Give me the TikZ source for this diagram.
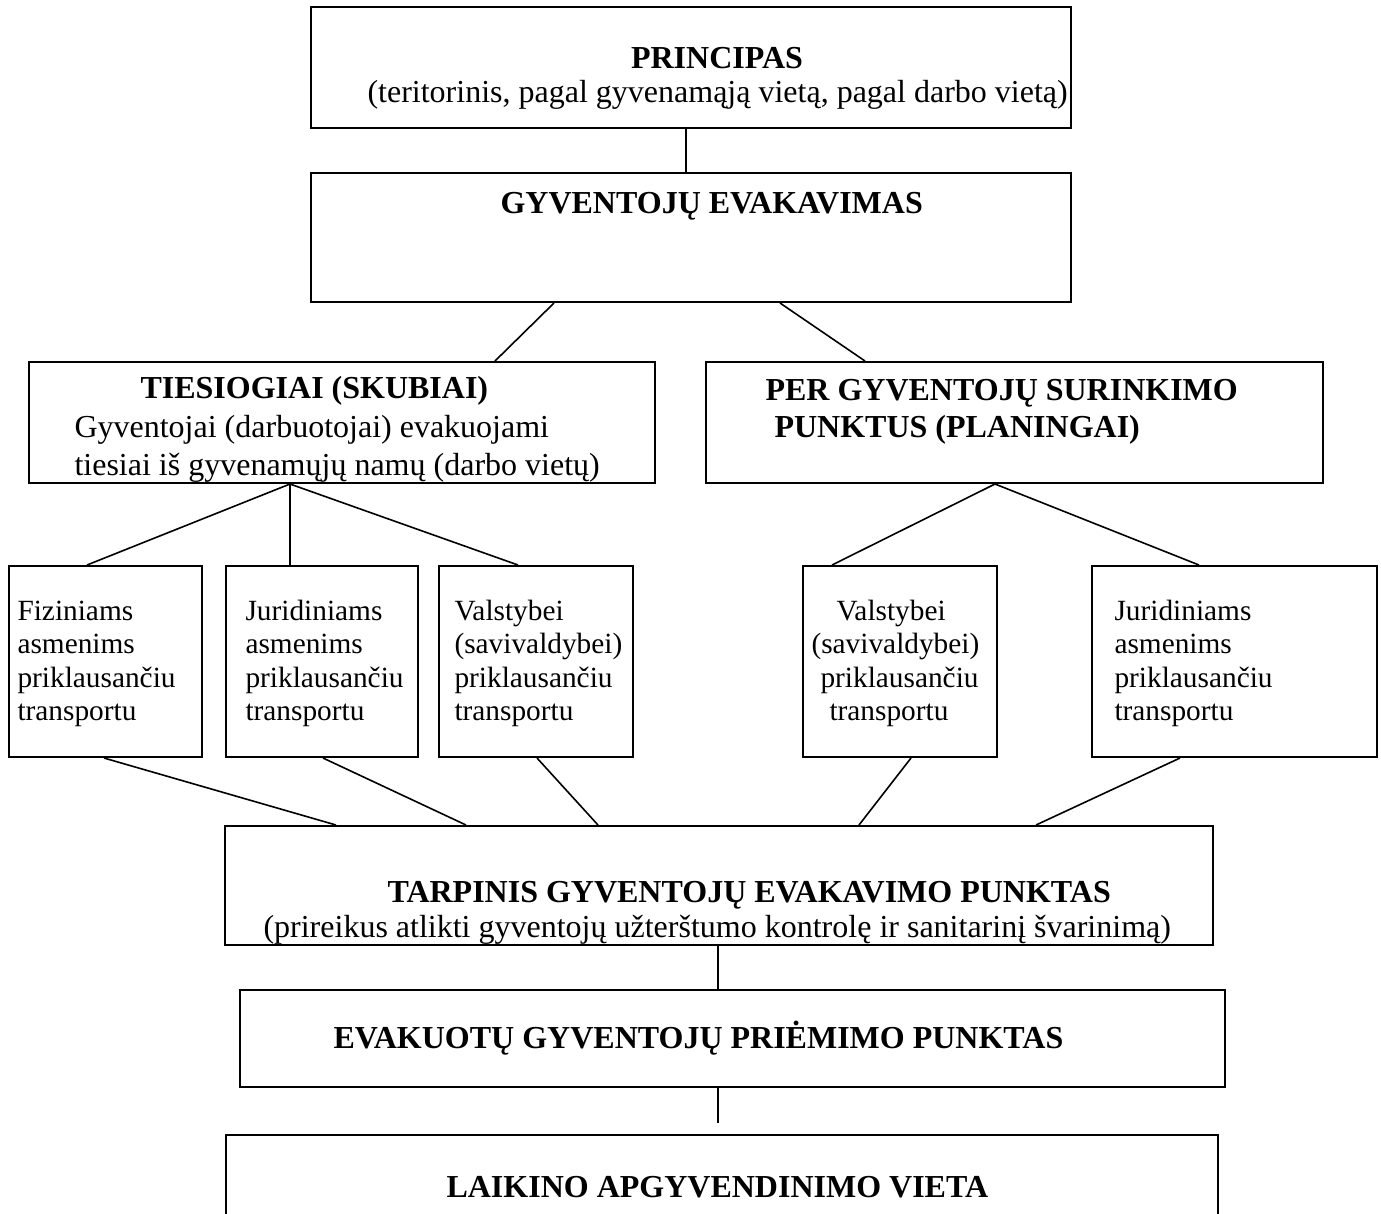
\documentclass[tikz,border=0pt]{standalone}
\usepackage{fontspec}
\setmainfont{Liberation Serif}
\usetikzlibrary{fit}

\begin{document}
\begin{tikzpicture}[x=0.375pt,y=-0.375pt]
\tikzstyle{every node}=[font=\fontsize{12}{14}\selectfont, inner sep=0pt]
\tikzstyle{box}=[draw, line width=0.75pt]
\tikzstyle{txt}=[anchor=base west]
\tikzstyle{ttl}=[anchor=base west, font=\fontsize{12}{14}\selectfont\bfseries]
\tikzstyle{small}=[anchor=base west, font=\fontsize{11}{13}\selectfont]
\tikzstyle{link}=[line width=0.6pt]

% page frame, the last box runs off the bottom
\useasboundingbox (0,0) rectangle (1381,1213);
\clip (0,0) rectangle (1381,1213);

% big boxes
\node[box, fit={(311,7) (1071,128)}] (princ) {};
\node[box, fit={(311,173) (1071,302)}] (gyv) {};
\node[box, fit={(29,362) (655,483)}] (tie) {};
\node[box, fit={(706,362) (1323,483)}] (per) {};
\node[box, fit={(225,826) (1213,945)}] (tarp) {};
\node[box, fit={(240,990) (1225,1087)}] (evak) {};
\node[box, fit={(226,1135) (1218,1260)}] (laik) {};

% small boxes (transport)
\foreach \name/\xa/\xb in {fiz/9/202, jur/226/418, val/439/633, valb/803/997, jurb/1092/1377}
	\node[box, fit={(\xa,566) (\xb,757)}] (\name) {};

% texts
\node[ttl, anchor=base] (princ-t) at (717,68) {PRINCIPAS};
\node[txt] (princ-s) at (367,102) {(teritorinis, pagal gyvenamąją vietą, pagal darbo vietą)};
\node[ttl] (gyv-t) at (500,213) {GYVENTOJŲ EVAKAVIMAS};
\node[ttl] (tie-t) at (140,398) {TIESIOGIAI (SKUBIAI)};
\node[txt] (tie-s1) at (74,437) {Gyventojai (darbuotojai) evakuojami};
\node[txt] (tie-s2) at (74,475) {tiesiai iš gyvenamųjų namų (darbo vietų)};
\node[ttl] (per-t1) at (765,400) {PER GYVENTOJŲ SURINKIMO};
\node[ttl] (per-t2) at (774,437) {PUNKTUS (PLANINGAI)};

\foreach \t [count=\i] in {Fiziniams, asmenims, priklausančiu, transportu}
	\node[small] (fiz-t\i) at (17,586.5+33.5*\i) {\t};
\foreach \t [count=\i] in {Juridiniams, asmenims, priklausančiu, transportu}
	\node[small] (jur-t\i) at (245,586.5+33.5*\i) {\t};
\foreach \t [count=\i] in {Valstybei, {(savivaldybei)}, priklausančiu, transportu}
	\node[small] (val-t\i) at (454,586.5+33.5*\i) {\t};
\foreach \t/\x [count=\i] in {Valstybei/836, {(savivaldybei)}/811, priklausančiu/820, transportu/829}
	\node[small] (valb-t\i) at (\x,586.5+33.5*\i) {\t};
\foreach \t [count=\i] in {Juridiniams, asmenims, priklausančiu, transportu}
	\node[small] (jurb-t\i) at (1114,586.5+33.5*\i) {\t};

\node[ttl] (tarp-t) at (387,902) {TARPINIS GYVENTOJŲ EVAKAVIMO PUNKTAS};
\node[txt] (tarp-s) at (263,937) {(prireikus atlikti gyventojų užterštumo kontrolę ir sanitarinį švarinimą)};
\node[ttl] (evak-t) at (333,1048) {EVAKUOTŲ GYVENTOJŲ PRIĖMIMO PUNKTAS};
\node[ttl] (laik-t) at (446,1197) {LAIKINO APGYVENDINIMO VIETA};

% links
\draw[link] (princ.south -| 686,0) -- (gyv.north -| 686,0);
\draw[link] (gyv.south -| 554,0) -- (tie.north -| 495,0);
\draw[link] (gyv.south -| 780,0) -- (per.north -| 865,0);
\foreach \to/\x in {fiz/87, jur/290, val/518}
	\draw[link] (tie.south -| 290,0) -- (\to.north -| \x,0);
\foreach \to/\x in {valb/832, jurb/1199}
	\draw[link] (per.south -| 995,0) -- (\to.north -| \x,0);
\foreach \from/\xa/\xb in {fiz/104/336, jur/323/466, val/537/598, valb/911/859, jurb/1180/1036}
	\draw[link] (\from.south -| \xa,0) -- (tarp.north -| \xb,0);
\draw[link] (tarp.south -| 718,0) -- (evak.north -| 718,0);
\draw[link, shorten >=4pt] (evak.south -| 718,0) -- (laik.north -| 718,0);

\end{tikzpicture}
\end{document}
